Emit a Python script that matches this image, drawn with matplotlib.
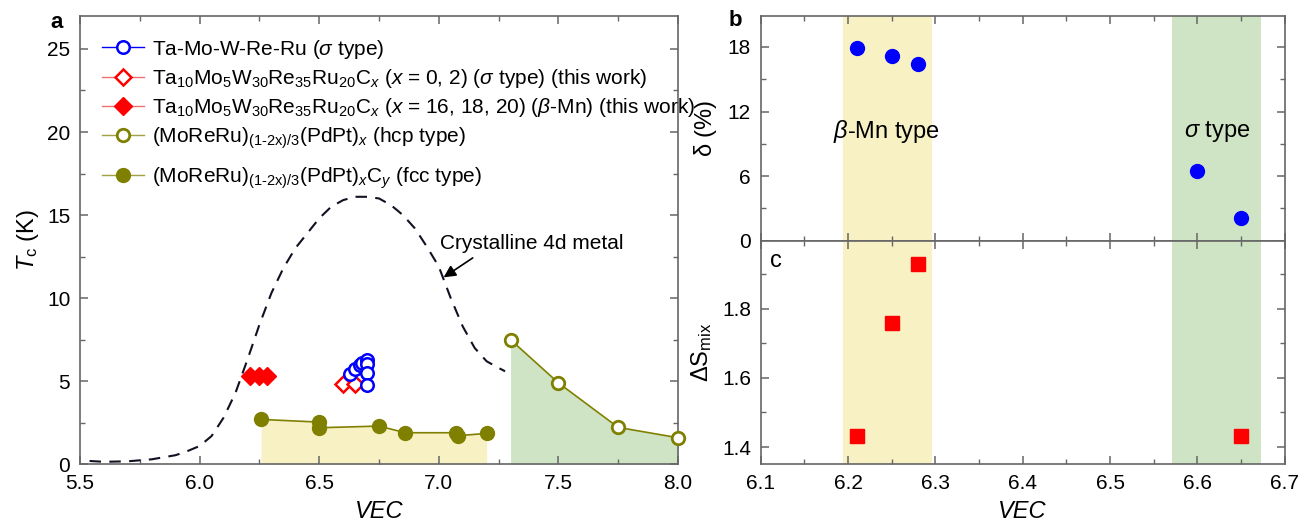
import matplotlib
matplotlib.use("Agg")
import matplotlib.pyplot as plt
from matplotlib.lines import Line2D
from matplotlib.ticker import MultipleLocator, FixedLocator

plt.rcParams['font.family'] = ['Liberation Sans', 'DejaVu Sans']
plt.rcParams['mathtext.fontset'] = 'custom'
plt.rcParams['mathtext.rm'] = 'Liberation Sans'
plt.rcParams['mathtext.it'] = 'Liberation Sans:italic'
plt.rcParams['mathtext.bf'] = 'Liberation Sans:bold'

# ---------------- Panel a data ----------------
ta_vec = [6.63, 6.65, 6.67, 6.68, 6.70, 6.70, 6.70, 6.70]
ta_tc = [5.45, 5.75, 5.95, 6.10, 6.30, 6.05, 5.50, 4.78]

sig_vec = [6.60, 6.65]
sig_tc = [4.85, 4.85]

bmn_vec = [6.21, 6.25, 6.28]
bmn_tc = [5.30, 5.30, 5.30]

hcp_vec = [7.30, 7.50, 7.75, 8.00]
hcp_tc = [7.50, 4.90, 2.22, 1.60]

fcc_vec = [6.257, 6.50, 6.50, 6.75, 6.86, 7.07, 7.08, 7.20]
fcc_tc = [2.70, 2.54, 2.20, 2.30, 1.90, 1.90, 1.72, 1.86]

cryst_vec = [5.54, 5.60, 5.70, 5.80, 5.90, 5.95, 6.00, 6.05, 6.10, 6.15, 6.20,
             6.25, 6.30, 6.35, 6.40, 6.45, 6.50, 6.55, 6.60, 6.65, 6.70, 6.75,
             6.80, 6.85, 6.90, 6.95, 7.00, 7.05, 7.10, 7.15, 7.20, 7.25, 7.277]
cryst_tc = [0.20, 0.15, 0.18, 0.30, 0.55, 0.80, 1.10, 1.70, 2.80, 4.30, 6.30,
            8.40, 10.3, 11.8, 13.0, 13.9, 14.8, 15.5, 15.9, 16.1, 16.1, 16.0,
            15.6, 15.0, 14.2, 13.1, 11.9, 10.0, 8.30, 7.00, 6.20, 5.80, 5.60]

# ---------------- Panel b / c data ----------------
delta_vec = [6.21, 6.25, 6.28, 6.60, 6.65]
delta_pct = [17.9, 17.2, 16.4, 6.5, 2.1]

smix_vec = [6.21, 6.25, 6.28, 6.65]
smix_val = [1.432, 1.760, 1.930, 1.432]

bmn_band = [6.194, 6.296]
sig_band = [6.571, 6.673]

OLIVE = '#808000'
YELLOW = '#f7f1c3'
GREEN = '#cfe4c5'
SPINE = '#666666'
FS = 15

fig = plt.figure(figsize=(13.01, 5.27), dpi=100)
axa = fig.add_axes([80 / 1301, 1 - 464.3 / 527, 598 / 1301, 448.6 / 527])
axb = fig.add_axes([760.7 / 1301, 1 - 240.7 / 527, 524 / 1301, 225 / 527])
axc = fig.add_axes([760.7 / 1301, 1 - 464.3 / 527, 524 / 1301, 223.6 / 527])


def style(ax):
    for s in ax.spines.values():
        s.set_color(SPINE)
        s.set_linewidth(1.2)
    ax.tick_params(which='both', direction='in', top=True, right=True,
                   color=SPINE, labelsize=FS, pad=7)
    ax.tick_params(which='major', length=6, width=1.1)
    ax.tick_params(which='minor', length=3.5, width=1.0)


# ---------------- Panel a ----------------
style(axa)
axa.fill_between(fcc_vec, fcc_tc, 0, color=YELLOW, lw=0, zorder=1)
axa.fill_between(hcp_vec, hcp_tc, 0, color=GREEN, lw=0, zorder=1)
axa.plot(cryst_vec, cryst_tc, ls=(0, (5.5, 4)), color='#111122', lw=1.5, zorder=2)
axa.plot(fcc_vec, fcc_tc, '-', color=OLIVE, lw=1.2, marker='o', ms=10,
         mfc=OLIVE, mec=OLIVE, zorder=3)
axa.plot(hcp_vec, hcp_tc, '-', color=OLIVE, lw=1.2, marker='o', ms=9,
         mfc='white', mec=OLIVE, mew=2, zorder=3, clip_on=False)
axa.plot(bmn_vec, bmn_tc, ls='none', marker='D', ms=9, mfc='red', mec='red',
         zorder=4)
axa.plot(sig_vec, sig_tc, ls='none', marker='D', ms=8.5, mfc='white', mec='red',
         mew=1.8, zorder=4)
axa.plot(ta_vec, ta_tc, ls='none', marker='o', ms=9, mfc='white', mec='blue',
         mew=1.8, zorder=5)

axa.set_xlim(5.5, 8.0)
axa.set_ylim(0, 27)
axa.xaxis.set_major_locator(MultipleLocator(0.5))
axa.xaxis.set_minor_locator(MultipleLocator(0.25))
axa.yaxis.set_major_locator(MultipleLocator(5))
axa.yaxis.set_minor_locator(MultipleLocator(2.5))
axa.xaxis.set_major_formatter(matplotlib.ticker.FormatStrFormatter('%.1f'))
axa.set_xlabel('VEC', fontsize=17, style='italic', labelpad=5)
axa.set_ylabel(r'$T_{\mathregular{c}}$ (K)', fontsize=17, labelpad=4)

axa.annotate('Crystalline 4d metal', xy=(7.02, 11.25), xytext=(7.005, 13.3),
             fontsize=FS, va='center', ha='left',
             arrowprops=dict(arrowstyle='-|>', color='black', lw=1.2,
                             mutation_scale=18, shrinkA=3, shrinkB=0,
                             relpos=(0.22, 0.0)))

lab1 = r'Ta-Mo-W-Re-Ru ($\sigma$ type)'
lab2 = (r'Ta$_{\mathregular{10}}$Mo$_{\mathregular{5}}$W$_{\mathregular{30}}$'
        r'Re$_{\mathregular{35}}$Ru$_{\mathregular{20}}$C$_x$ ($x$ = 0, 2) '
        r'($\sigma$ type) (this work)')
lab3 = (r'Ta$_{\mathregular{10}}$Mo$_{\mathregular{5}}$W$_{\mathregular{30}}$'
        r'Re$_{\mathregular{35}}$Ru$_{\mathregular{20}}$C$_x$ ($x$ = 16, 18, 20) '
        r'($\beta$-Mn) (this work)')
lab4 = r'(MoReRu)$_{\text{(1-2x)/3}}$(PdPt)$_x$ (hcp type)'
lab5 = r'(MoReRu)$_{\text{(1-2x)/3}}$(PdPt)$_x$C$_y$ (fcc type)'

h1 = Line2D([], [], color='blue', lw=1, marker='o', ms=9, mfc='white',
            mec='blue', mew=1.8)
h2 = Line2D([], [], color='#f07070', lw=1, marker='D', ms=8.5, mfc='white',
            mec='red', mew=1.8)
h3 = Line2D([], [], color='#f07070', lw=1, marker='D', ms=9, mfc='red',
            mec='red')
h4 = Line2D([], [], color='#a0a040', lw=1, marker='o', ms=9, mfc='white',
            mec=OLIVE, mew=2)
h5 = Line2D([], [], color='#a0a040', lw=1, marker='o', ms=10, mfc=OLIVE,
            mec=OLIVE)

leg1 = axa.legend([h1, h2, h3, h4], [lab1, lab2, lab3, lab4], loc='upper left',
                  bbox_to_anchor=(0.036, 0.951), frameon=False, fontsize=FS,
                  handlelength=2.05, handletextpad=0.35, borderpad=0,
                  borderaxespad=0, labelspacing=0.3)
axa.add_artist(leg1)
axa.legend([h5], [lab5], loc='upper left', bbox_to_anchor=(0.036, 0.667),
           frameon=False, fontsize=FS, handlelength=2.05, handletextpad=0.35,
           borderpad=0, borderaxespad=0)

fig.text(57 / 1301, 1 - 23 / 527, 'a', fontsize=16, fontweight='bold',
         ha='center', va='center')

# ---------------- Panel b ----------------
for ax in (axb, axc):
    style(ax)
    ax.axvspan(bmn_band[0], bmn_band[1], color=YELLOW, lw=0, zorder=0)
    ax.axvspan(sig_band[0], sig_band[1], color=GREEN, lw=0, zorder=0)
    ax.set_xlim(6.1, 6.7)
    ax.xaxis.set_major_locator(MultipleLocator(0.1))
    ax.xaxis.set_minor_locator(MultipleLocator(0.05))

axb.plot(delta_vec, delta_pct, ls='none', marker='o', ms=10, color='blue',
         zorder=3)
axb.set_ylim(0, 20.9)
axb.yaxis.set_major_locator(MultipleLocator(6))
axb.yaxis.set_minor_locator(MultipleLocator(3))
axb.tick_params(labelbottom=False)
axb.set_ylabel(r'$\mathregular{\delta}$ (%)', fontsize=17, labelpad=6)
axb.text(6.244, 10.1, r'$\beta$-Mn type', fontsize=17, ha='center',
         va='center')
axb.text(6.623, 10.1, r'$\sigma$ type', fontsize=17, ha='center', va='center')
fig.text(735 / 1301, 1 - 21 / 527, 'b', fontsize=16, fontweight='bold',
         ha='center', va='center')

# ---------------- Panel c ----------------
axc.plot(smix_vec, smix_val, ls='none', marker='s', ms=9.5, color='red',
         zorder=3)
axc.set_ylim(1.35, 1.997)
axc.yaxis.set_major_locator(FixedLocator([1.4, 1.6, 1.8]))
axc.yaxis.set_minor_locator(FixedLocator([1.5, 1.7, 1.9]))
axc.xaxis.set_major_formatter(matplotlib.ticker.FormatStrFormatter('%.1f'))
axc.set_xlabel('VEC', fontsize=17, style='italic', labelpad=5)
axc.set_ylabel(r'$\Delta$S$_{\mathregular{mix}}$', fontsize=17, labelpad=6)
axc.text(0.03, 0.91, 'c', transform=axc.transAxes, fontsize=17, ha='center',
         va='center')

fig.savefig('out.png', dpi=100)
